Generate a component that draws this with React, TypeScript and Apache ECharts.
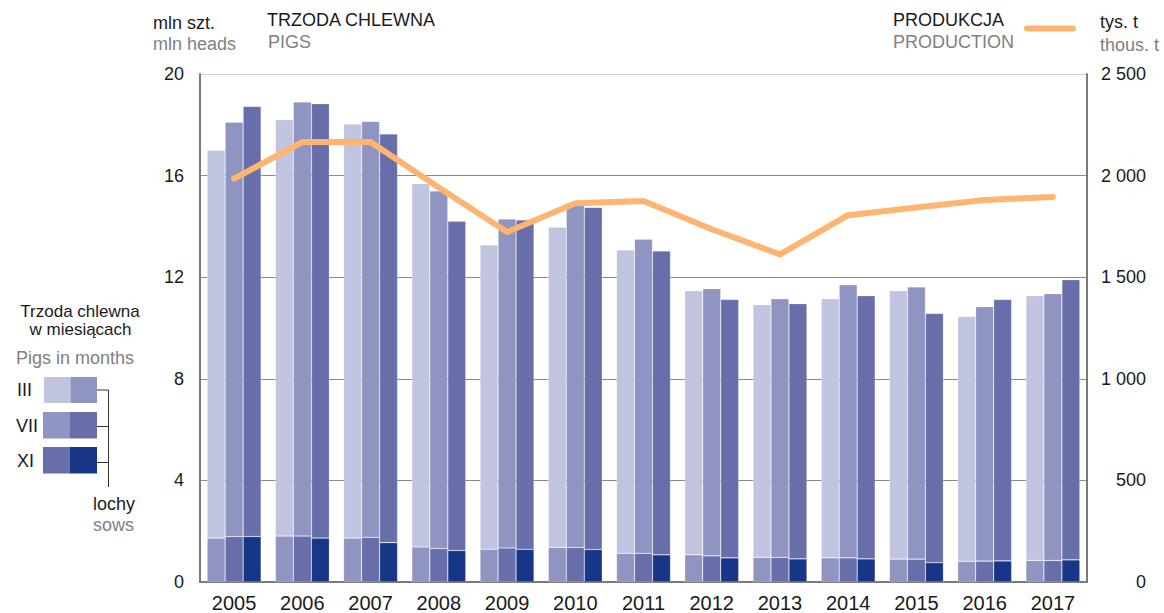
import React, { useEffect, useRef } from "react";
import * as echarts from "echarts";

const years = ["2005","2006","2007","2008","2009","2010","2011","2012","2013","2014","2015","2016","2017"];
const pigsMar = [17.0, 18.2, 18.03, 15.68, 13.27, 13.97, 13.07, 11.47, 10.92, 11.15, 11.47, 10.45, 11.27];
const pigsJul = [18.1, 18.9, 18.13, 15.4, 14.29, 14.87, 13.5, 11.55, 11.15, 11.7, 11.62, 10.84, 11.35];
const pigsNov = [18.72, 18.83, 17.64, 14.2, 14.25, 14.75, 13.03, 11.12, 10.96, 11.27, 10.57, 11.12, 11.9];
const sowsMar = [1.73, 1.81, 1.73, 1.38, 1.29, 1.36, 1.13, 1.07, 0.97, 0.95, 0.9, 0.81, 0.85];
const sowsJul = [1.79, 1.81, 1.76, 1.32, 1.34, 1.36, 1.13, 1.03, 0.97, 0.95, 0.9, 0.82, 0.85];
const sowsNov = [1.79, 1.73, 1.55, 1.24, 1.29, 1.28, 1.07, 0.95, 0.91, 0.91, 0.76, 0.83, 0.87];
const production = [1985, 2165, 2165, 1942, 1722, 1864, 1875, 1736, 1612, 1805, 1843, 1880, 1895];
const leftTicks = ["0", "4", "8", "12", "16", "20"];
const rightTicks = ["0", "500", "1 000", "1 500", "2 000", "2 500"];
const monthLabels = ["III", "VII", "XI"];

const C_LIGHT = "#c1c4df";
const C_MED = "#8f94c1";
const C_DARK = "#676ea9";
const C_NAVY = "#183687";
const C_LINE = "#fdb571";
const FONT = "Liberation Sans, Arial, sans-serif";
const BLACK = "#1a1a1a";
const GRAY = "#808080";

export default function App() {
  const ref = useRef<HTMLDivElement>(null);
  useEffect(() => {
    if (!ref.current) return;
    const chart = echarts.init(ref.current, null, { renderer: "svg" });
    const groups = [
      { pigs: pigsMar, sows: sowsMar, top: C_LIGHT, bottom: C_MED },
      { pigs: pigsJul, sows: sowsJul, top: C_MED, bottom: C_DARK },
      { pigs: pigsNov, sows: sowsNov, top: C_DARK, bottom: C_NAVY },
    ];
    const barSeries: any[] = [];
    groups.forEach((g, i) => {
      barSeries.push({
        type: "bar",
        name: monthLabels[i] + " sows",
        stack: "s" + i,
        data: g.sows,
        barWidth: 18,
        barGap: "0%",
        itemStyle: { color: g.bottom, borderColor: "rgba(255,255,255,0.35)", borderWidth: 0.6 },
      });
      barSeries.push({
        type: "bar",
        name: monthLabels[i],
        stack: "s" + i,
        data: g.pigs.map((v, k) => +(v - g.sows[k]).toFixed(3)),
        barWidth: 18,
        barGap: "0%",
        itemStyle: { color: g.top, borderColor: "rgba(255,255,255,0.35)", borderWidth: 0.6 },
      });
    });

    const txt = (x: number, y: number, text: string, fill: string, align: string = "left", size = 18) => ({
      type: "text",
      x,
      y,
      style: { text, fill, font: `${size}px ${FONT}`, textAlign: align, textVerticalAlign: "middle" },
    });
    const rect = (x: number, y: number, w: number, h: number, fill: string) => ({
      type: "rect",
      shape: { x, y, width: w, height: h },
      style: { fill },
    });
    const ln = (x1: number, y1: number, x2: number, y2: number) => ({
      type: "line",
      shape: { x1, y1, x2, y2 },
      style: { stroke: "#333", lineWidth: 1 },
    });

    chart.setOption({
      animation: false,
      grid: { left: 200, right: 77, top: 74, bottom: 28 },
      xAxis: {
        type: "category",
        data: years,
        axisLine: { lineStyle: { color: "#7a7a7a", width: 2 } },
        axisTick: { show: false },
        axisLabel: { color: BLACK, fontSize: 20, fontFamily: FONT, margin: 21, verticalAlign: "middle" },
      },
      yAxis: [
        {
          type: "value",
          min: 0,
          max: 20,
          interval: 4,
          axisLine: { show: true, lineStyle: { color: "#7a7a7a", width: 2 } },
          axisTick: { show: false },
          splitLine: { show: true, lineStyle: { color: ["#8a8a8a", "#8a8a8a", "#8a8a8a", "#8a8a8a", "#8a8a8a", "#cfcfcf"], width: 1 } },
          axisLabel: {
            color: BLACK,
            fontSize: 18,
            fontFamily: FONT,
            margin: 16,
            formatter: (v: number) => leftTicks[Math.round(v / 4)],
          },
        },
        {
          type: "value",
          min: 0,
          max: 2500,
          interval: 500,
          position: "right",
          axisLine: { show: true, lineStyle: { color: "#7a7a7a", width: 2 } },
          axisTick: { show: false },
          splitLine: { show: false },
          axisLabel: {
            color: BLACK,
            fontSize: 18,
            fontFamily: FONT,
            margin: 59,
            align: "right",
            formatter: (v: number) => rightTicks[Math.round(v / 500)],
          },
        },
      ],
      series: [
        ...barSeries,
        {
          type: "line",
          name: "production",
          yAxisIndex: 1,
          data: production,
          symbol: "none",
          z: 10,
          lineStyle: { color: C_LINE, width: 6, cap: "round", join: "round" },
        },
      ],
      graphic: [
        txt(153, 23, "mln szt.", BLACK),
        txt(153, 44, "mln heads", GRAY),
        txt(267, 20, "TRZODA CHLEWNA", BLACK),
        txt(268, 41.5, "PIGS", GRAY),
        txt(893, 20, "PRODUKCJA", BLACK),
        txt(893, 41.5, "PRODUCTION", GRAY),
        {
          type: "line",
          shape: { x1: 1027, y1: 28.5, x2: 1073, y2: 28.5 },
          style: { stroke: C_LINE, lineWidth: 6, lineCap: "round" },
        },
        txt(1100, 22, "tys. t", BLACK),
        txt(1100, 45, "thous. t", GRAY),
        txt(80, 311.5, "Trzoda chlewna", BLACK, "center", 17),
        txt(80.5, 329.5, "w miesiącach", BLACK, "center", 17),
        txt(16, 357.5, "Pigs in months", GRAY),
        rect(44, 377, 26.5, 26, C_LIGHT),
        rect(70.5, 377, 26.5, 26, C_MED),
        rect(43, 412, 27, 26.5, C_MED),
        rect(70, 412, 27, 26.5, C_DARK),
        rect(43, 447, 27, 26.5, C_DARK),
        rect(70, 447, 27, 26.5, C_NAVY),
        txt(17, 390, monthLabels[0], BLACK),
        txt(16, 425.5, monthLabels[1], BLACK),
        txt(17, 461, monthLabels[2], BLACK),
        ln(108.5, 390, 108.5, 487),
        ln(97, 390, 108.5, 390),
        ln(97, 426.5, 108.5, 426.5),
        ln(97, 462.5, 108.5, 462.5),
        txt(93, 503.5, "lochy", BLACK),
        txt(93, 524.5, "sows", GRAY),
      ],
    });
    return () => chart.dispose();
  }, []);
  return <div ref={ref} style={{ position: "absolute", left: 0, top: 0, width: 1164, height: 613 }} />;
}
